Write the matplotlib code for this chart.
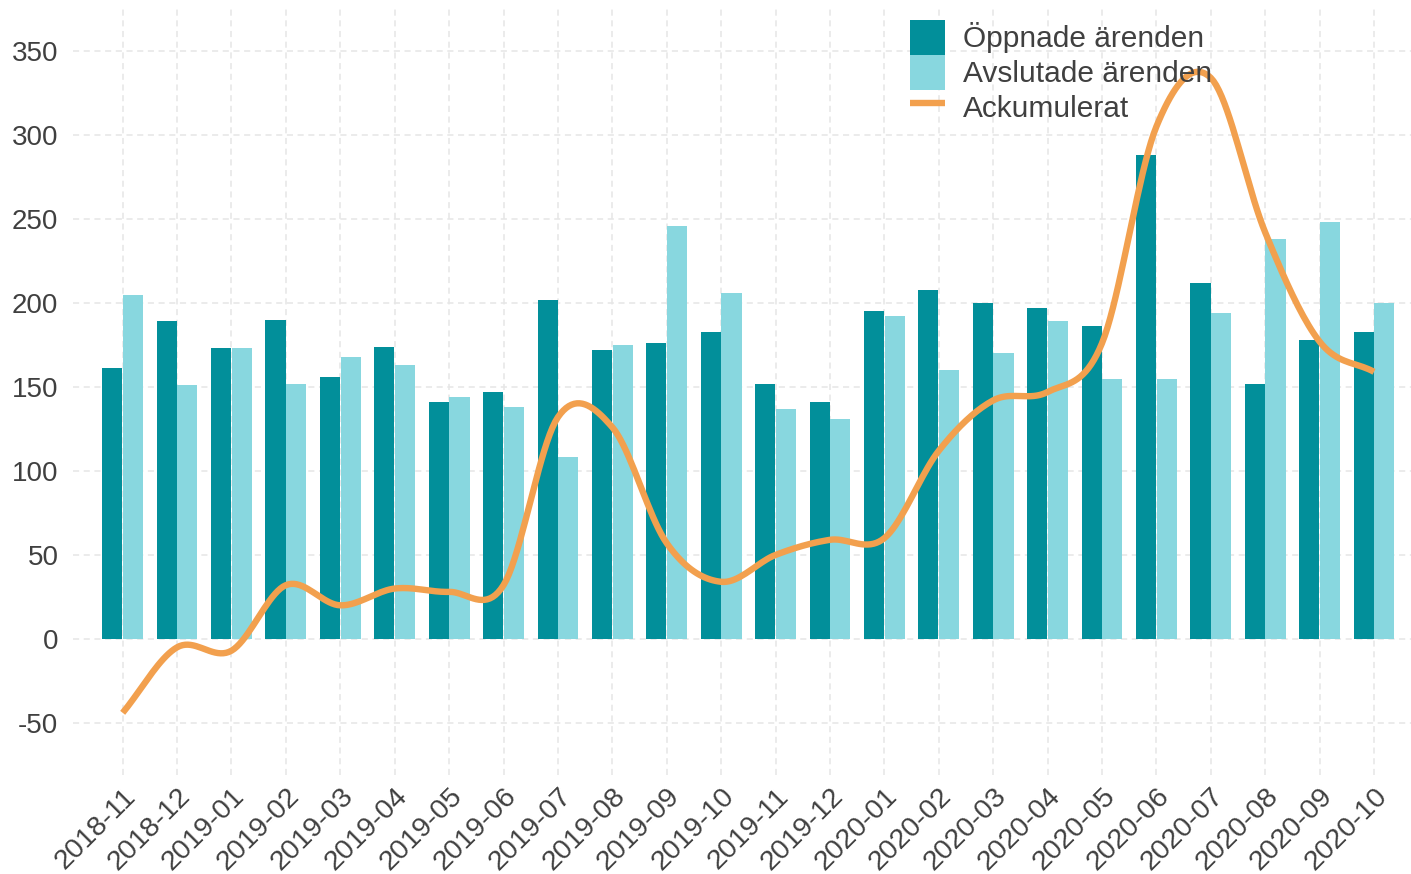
import numpy as np
import matplotlib
matplotlib.use("Agg")
import matplotlib.pyplot as plt

plt.rcParams['font.family'] = ['Liberation Sans', 'DejaVu Sans']
plt.rcParams['axes.unicode_minus'] = False

# months shown on the x axis
months = ["2018-11", "2018-12", "2019-01", "2019-02", "2019-03", "2019-04",
          "2019-05", "2019-06", "2019-07", "2019-08", "2019-09", "2019-10",
          "2019-11", "2019-12", "2020-01", "2020-02", "2020-03", "2020-04",
          "2020-05", "2020-06", "2020-07", "2020-08", "2020-09", "2020-10"]

opened = [161, 189, 173, 190, 156, 174, 141, 147, 202, 172, 176, 183,
          152, 141, 195, 208, 200, 197, 186, 288, 212, 152, 178, 183]
closed = [205, 151, 173, 152, 168, 163, 144, 138, 108, 175, 246, 206,
          137, 131, 192, 160, 170, 189, 155, 155, 194, 238, 248, 200]
accumulated = [-44, -5, -7, 32, 20, 30, 28, 32, 132, 126, 57, 34,
               50, 59, 60, 112, 142, 147, 176, 305, 334, 242, 177, 159]

yticks = [-50, 0, 50, 100, 150, 200, 250, 300, 350]

c_open = "#028F9A"
c_close = "#88D7DF"
c_line = "#F2A04E"
c_text = "#404040"


def smooth(x, y, n=20):
    # catmull-rom style curve through the points
    x = np.asarray(x, float)
    y = np.asarray(y, float)
    m = np.zeros_like(y)
    m[1:-1] = (y[2:] - y[:-2]) / 2
    m[0] = y[1] - y[0]
    m[-1] = y[-1] - y[-2]
    xs, ys = [], []
    for i in range(len(x) - 1):
        t = np.linspace(0, 1, n, endpoint=False)
        h00 = 2 * t**3 - 3 * t**2 + 1
        h10 = t**3 - 2 * t**2 + t
        h01 = -2 * t**3 + 3 * t**2
        h11 = t**3 - t**2
        xs.append(x[i] + t * (x[i + 1] - x[i]))
        ys.append(h00 * y[i] + h10 * m[i] + h01 * y[i + 1] + h11 * m[i + 1])
    xs.append([x[-1]])
    ys.append([y[-1]])
    return np.concatenate(xs), np.concatenate(ys)


fig = plt.figure(figsize=(14.11, 8.74), dpi=100)
ax = fig.add_axes([0.0517, 0.1133, 0.9483, 0.8764])

x = np.arange(len(months))
w = 0.37
b1 = ax.bar(x - 0.19, opened, width=w, color=c_open, label="Öppnade ärenden", zorder=2)
b2 = ax.bar(x + 0.19, closed, width=w, color=c_close, label="Avslutade ärenden", zorder=2)

sx, sy = smooth(x, accumulated)
ln, = ax.plot(sx, sy, color=c_line, lw=4.6, solid_capstyle='butt', label="Ackumulerat", zorder=3)

ax.set_xlim(-0.914, 23.68)
ax.set_ylim(-81, 375)
ax.set_xticks(x)
ax.set_xticklabels(months, rotation=45, ha='right', rotation_mode='anchor')
ax.set_yticks(yticks)

for s in ax.spines.values():
    s.set_visible(False)
ax.tick_params(axis='both', length=0, labelsize=20, labelcolor=c_text)
ax.tick_params(axis='x', labelsize=20.5, pad=6)
ax.tick_params(axis='y', pad=10.5)
ax.grid(True, color="#e6e6e6", linestyle=(0, (4, 3)), linewidth=1.1, zorder=0)
ax.set_axisbelow(True)

leg = ax.legend([b1, b2, ln], ["Öppnade ärenden", "Avslutade ärenden", "Ackumulerat"],
                loc='upper left', bbox_to_anchor=(910 / 1411, 1 - 20 / 874),
                bbox_transform=fig.transFigure, frameon=False, fontsize=21.5,
                borderpad=0, borderaxespad=0, labelspacing=0.0,
                handlelength=1.17, handleheight=1.42, handletextpad=0.6,
                labelcolor=c_text)
leg.set_zorder(5)

plt.savefig("out.png", dpi=100)
